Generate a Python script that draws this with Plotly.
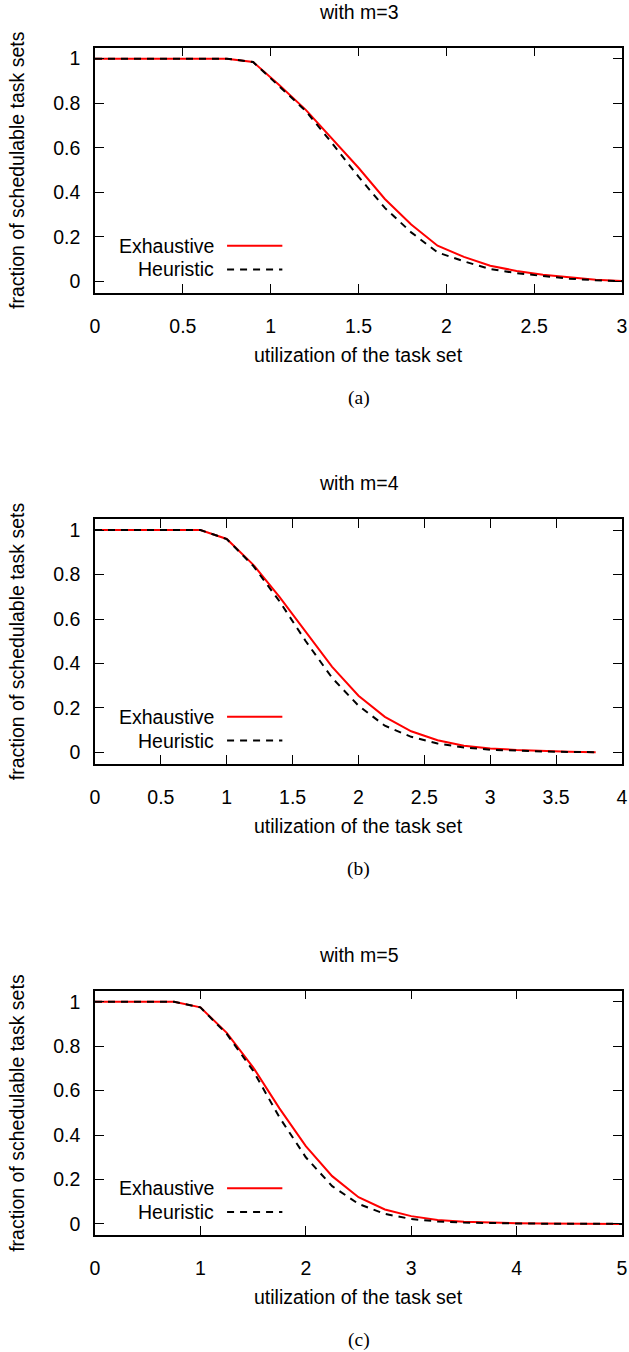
import plotly.graph_objects as go

# utilization values per processor count
util_m3 = [0, 0.15, 0.3, 0.45, 0.6, 0.75, 0.9, 1.05, 1.2, 1.35, 1.5,
           1.65, 1.8, 1.95, 2.1, 2.25, 2.4, 2.55, 2.7, 2.85, 3.0]
exhaustive_m3 = [1, 1, 1, 1, 1, 1, 0.985, 0.88, 0.77, 0.64, 0.51,
                 0.37, 0.255, 0.16, 0.11, 0.07, 0.047, 0.03, 0.017, 0.007, 0.002]
heuristic_m3 = [1, 1, 1, 1, 1, 1, 0.985, 0.875, 0.765, 0.62, 0.47,
                0.33, 0.22, 0.13, 0.09, 0.055, 0.037, 0.024, 0.012, 0.005, 0.001]

util_m4 = [0, 0.2, 0.4, 0.6, 0.8, 1.0, 1.2, 1.4, 1.6, 1.8,
           2.0, 2.2, 2.4, 2.6, 2.8, 3.0, 3.2, 3.4, 3.6, 3.8]
exhaustive_m4 = [1, 1, 1, 1, 1, 0.96, 0.845, 0.70, 0.54, 0.385,
                 0.255, 0.16, 0.095, 0.055, 0.03, 0.018, 0.011, 0.006, 0.003, 0.001]
heuristic_m4 = [1, 1, 1, 1, 1, 0.96, 0.84, 0.68, 0.50, 0.335,
                0.21, 0.12, 0.07, 0.04, 0.022, 0.012, 0.007, 0.004, 0.002, 0.001]

util_m5 = [0, 0.25, 0.5, 0.75, 1.0, 1.25, 1.5, 1.75, 2.0, 2.25, 2.5,
           2.75, 3.0, 3.25, 3.5, 3.75, 4.0, 4.25, 4.5, 4.75, 5.0]
exhaustive_m5 = [1, 1, 1, 1, 0.975, 0.86, 0.705, 0.52, 0.35, 0.215, 0.12,
                 0.065, 0.035, 0.018, 0.01, 0.006, 0.003, 0.002, 0.001, 0.0005, 0]
heuristic_m5 = [1, 1, 1, 1, 0.975, 0.855, 0.69, 0.48, 0.30, 0.17, 0.09,
                0.045, 0.022, 0.011, 0.006, 0.003, 0.002, 0.001, 0.0005, 0.0002, 0]

panels = [
    ("with m=3", "(a)", util_m3, exhaustive_m3, heuristic_m3, 3, 0.5),
    ("with m=4", "(b)", util_m4, exhaustive_m4, heuristic_m4, 4, 0.5),
    ("with m=5", "(c)", util_m5, exhaustive_m5, heuristic_m5, 5, 1),
]

W, H = 629, 1352
SANS = "Liberation Sans, Arial, sans-serif"
SERIF = "Liberation Serif, Times New Roman, serif"
FS = 19.5

# plot frames in pixels (top, bottom)
frames = [(47.5, 292.5), (519, 763.5), (990.7, 1235)]
x_left, x_right = 95, 622


def py(p):
    return 1 - p / H


def label(text, x, y, font=SANS, **kw):
    d = dict(text=text, x=x, y=y, xref="paper", yref="paper",
             xanchor="center", yanchor="middle", showarrow=False,
             font=dict(family=font, size=FS, color="black"))
    d.update(kw)
    return d


fig = go.Figure()
annotations = []
shapes = []

for i, (title, caption, xs, ex, he, xmax, dx) in enumerate(panels):
    n = "" if i == 0 else str(i + 1)
    top, bot = frames[i]
    fig.add_trace(go.Scatter(x=xs, y=ex, mode="lines", name="Exhaustive",
                             line=dict(color="#ff0000", width=2),
                             xaxis="x" + n, yaxis="y" + n, showlegend=False))
    fig.add_trace(go.Scatter(x=xs, y=he, mode="lines", name="Heuristic",
                             line=dict(color="black", width=2, dash="7px,6px"),
                             xaxis="x" + n, yaxis="y" + n, showlegend=False))

    axis_common = dict(showline=True, linecolor="black", linewidth=1.5,
                       mirror="ticks", ticks="inside", ticklen=9, tickwidth=1,
                       tickcolor="black", showgrid=False, zeroline=False,
                       automargin=False, ticklabeloverflow="allow",
                       tickfont=dict(family=SANS, size=FS, color="black"))
    fig.layout["xaxis" + n] = dict(axis_common, domain=[x_left / W, x_right / W],
                                   range=[0, xmax], dtick=dx, tick0=0,
                                   ticklabelstandoff=15, anchor="y" + n)
    fig.layout["yaxis" + n] = dict(axis_common, domain=[py(bot), py(top)],
                                   range=[-0.05, 1.05], dtick=0.2, tick0=0,
                                   ticklabelstandoff=9, anchor="x" + n)

    cx = (x_left + x_right) / 2 / W
    annotations += [
        label(title, cx, py(top - 35.5)),
        label("utilization of the task set", cx, py(bot + 62)),
        label(caption, cx, py(bot + 105), font=SERIF),
        label("fraction of schedulable task sets", 17 / W, py((top + bot) / 2),
              textangle=-90),
    ]

    # gnuplot style key: label on the left, sample line on the right
    for name, ky, style in [("Exhaustive", 0.191, dict(color="#ff0000", width=2)),
                            ("Heuristic", 0.094, dict(color="black", width=2, dash="7px,6px"))]:
        annotations.append(label(name, 0.229, ky, xref="x%s domain" % n,
                                 yref="y%s domain" % n, xanchor="right"))
        shapes.append(dict(type="line", x0=0.2506, x1=0.3555, y0=ky, y1=ky,
                           xref="x%s domain" % n, yref="y%s domain" % n,
                           line=style))

fig.update_layout(template="none", width=W, height=H,
                  margin=dict(l=0, r=0, t=0, b=0, autoexpand=False),
                  plot_bgcolor="white", paper_bgcolor="white",
                  showlegend=False,
                  annotations=annotations, shapes=shapes)

# drop the browser's default body margin so the figure sits at the page origin
fig.write_html("out.html", config={"displayModeBar": False},
               post_script="document.body.style.margin='0';")
